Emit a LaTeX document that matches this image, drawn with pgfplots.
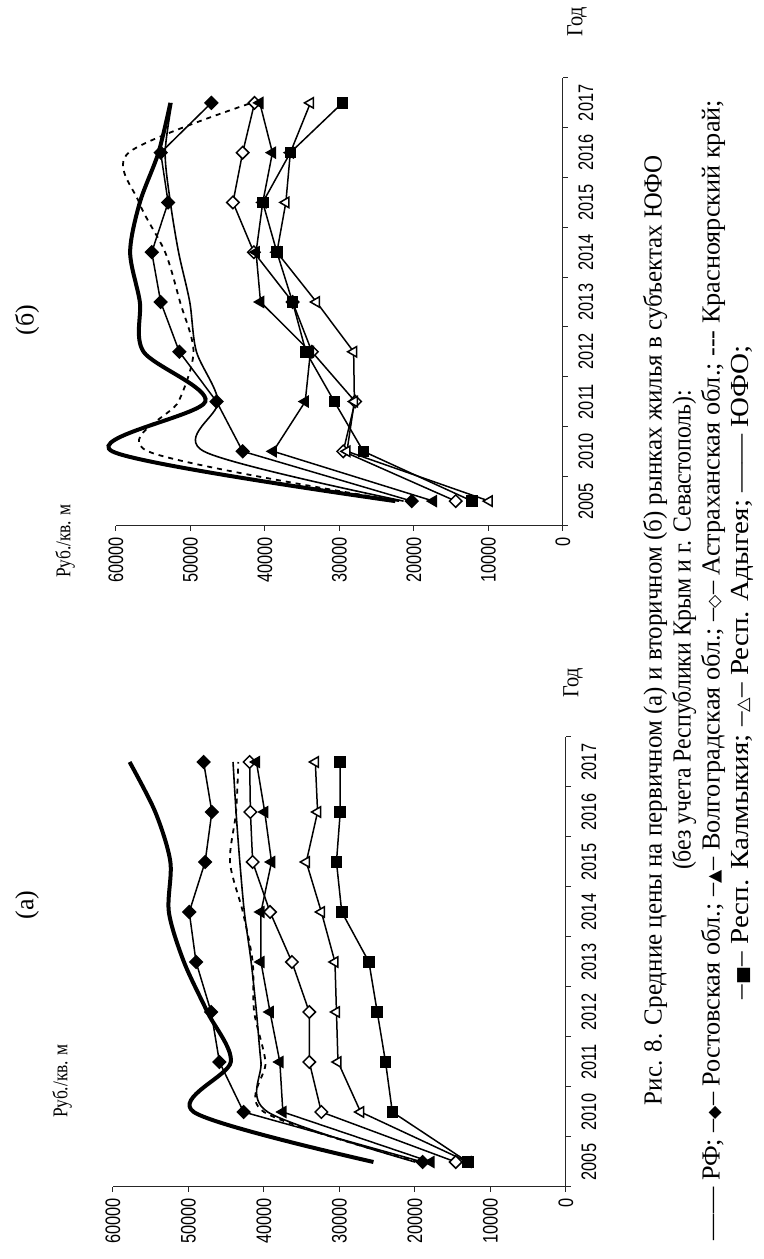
\documentclass[border=0pt]{standalone}
\usepackage{pgfplots}
\pgfplotsset{compat=1.18}
\usepackage{fontspec}
\usepackage{graphicx}
\setmainfont{Liberation Serif}
\newfontfamily\ticksf[FakeStretch=0.78]{Liberation Sans}
\newfontfamily\sym{DejaVu Sans}
\newcommand{\capline}[2]{\resizebox{#1}{\height}{\fontsize{13}{15}\selectfont #2}}
\newcommand{\smk}[1]{{\sym\fontsize{8.5}{8.5}\selectfont #1}}
\begin{document}
\begin{tikzpicture}
\path[use as bounding box] (0,0) rectangle (382pt,629.5pt);
\pgfplotsset{
  common/.style={
    scale only axis,
    x dir=reverse,
    xmin=0, xmax=60000, ymin=-0.5, ymax=8.5,
    axis x line*=bottom, axis y line*=right,
    axis line style={line width=0.5pt, black!85},
    tick style={line width=0.5pt, black!85},
    tick align=outside,
    major tick length=2.5pt,
    minor tick length=2.5pt,
    scaled x ticks=false,
    xtick={0,10000,20000,30000,40000,50000,60000},
    xticklabels={0,10000,20000,30000,40000,50000,60000},
    ytick={0,1,2,3,4,5,6,7,8},
    yticklabels={2005,2010,2011,2012,2013,2014,2015,2016,2017},
    minor ytick={-0.5,0.5,1.5,2.5,3.5,4.5,5.5,6.5,7.5,8.5},
    major y tick style={draw=none},
    xticklabel style={font=\ticksf\fontsize{10.5}{11}\selectfont, inner sep=0pt, yshift=-3pt, rotate=90, anchor=east},
    yticklabel style={font=\ticksf\fontsize{10.5}{11}\selectfont, inner sep=0pt, xshift=5pt, rotate=90, anchor=north},
    clip=false,
  },
  rf/.style={line width=2pt, black, smooth, tension=0.5, mark=none},
  ufo/.style={line width=0.8pt, black, smooth, tension=0.5, mark=none},
  kr/.style={line width=0.9pt, black, dash pattern=on 2.5pt off 2.5pt, smooth, tension=0.5, mark=none},
  ros/.style={line width=0.75pt, black, mark=square*, mark size=2.2pt, mark options={solid, rotate=45, fill=black}},
  vol/.style={line width=0.75pt, black, mark=triangle*, mark size=3pt, mark options={solid, rotate=90, fill=black}},
  ast/.style={line width=0.75pt, black, mark=square*, mark size=2.2pt, mark options={solid, rotate=45, fill=white}},
  kal/.style={line width=0.75pt, black, mark=square*, mark size=2.5pt, mark options={solid, fill=black}},
  ady/.style={line width=0.75pt, black, mark=triangle*, mark size=3pt, mark options={solid, rotate=90, fill=white}},
}
% ---------- chart (b) (secondary market), top ----------
\begin{axis}[common, at={(58pt,366.5pt)}, anchor=south west, width=223.5pt, height=224pt]
\addplot[kr] coordinates {(22000,0) (55700,1) (51600,2) (49600,3) (51400,4) (53400,5) (56900,6) (58300,7) (41800,8)};
\addplot[ufo] coordinates {(21400,0) (48200,1) (46300,2) (49200,3) (50100,4) (51600,5) (52700,6) (53400,7) (52500,8)};
\addplot[rf] coordinates {(22500,0) (60500,1) (48000,2) (56300,3) (56800,4) (58100,5) (56800,6) (54300,7) (52700,8)};
\addplot[ros] coordinates {(20300,0) (43000,1) (46500,2) (51500,3) (54000,4) (55200,5) (53000,6) (54000,7) (47200,8)};
\addplot[ast] coordinates {(14400,0) (29500,1) (27900,2) (33700,3) (36300,4) (41500,5) (44300,6) (43000,7) (41400,8)};
\addplot[ady] coordinates {(9900,0) (29000,1) (28000,2) (28100,3) (33100,4) (38400,5) (37200,6) (36600,7) (33900,8)};
\addplot[kal] coordinates {(12200,0) (26800,1) (30700,2) (34500,3) (36300,4) (38400,5) (40300,6) (36600,7) (29600,8)};
\addplot[vol] coordinates {(17400,0) (38900,1) (34600,2) (33900,3) (40600,4) (41200,5) (40300,6) (39000,7) (40700,8)};
\end{axis}
% ---------- chart (a) (primary market), bottom ----------
\begin{axis}[common, at={(56.5pt,36pt)}, anchor=south west, width=226.5pt, height=225pt]
\addplot[kr] coordinates {(19600,0) (40000,1) (39800,2) (41300,3) (41500,4) (42800,5) (44500,6) (43700,7) (43400,8)};
\addplot[ufo] coordinates {(20000,0) (39500,1) (40400,2) (41000,3) (41700,4) (42600,5) (43200,6) (43700,7) (44100,8)};
\addplot[rf] coordinates {(25500,0) (49300,1) (44400,2) (47500,3) (50600,4) (52600,5) (52400,6) (54400,7) (57800,8)};
\addplot[ros] coordinates {(19000,0) (42700,1) (45900,2) (47000,3) (49000,4) (49900,5) (47800,6) (46900,7) (48000,8)};
\addplot[ast] coordinates {(14600,0) (32400,1) (34000,2) (34000,3) (36300,4) (39200,5) (41500,6) (41800,7) (41900,8)};
\addplot[ady] coordinates {(13000,0) (27200,1) (30200,2) (30400,3) (30600,4) (32400,5) (34400,6) (32900,7) (33200,8)};
\addplot[kal] coordinates {(13000,0) (23000,1) (23900,2) (25000,3) (26100,4) (29700,5) (30400,6) (29900,7) (29900,8)};
\addplot[vol] coordinates {(17900,0) (37500,1) (37900,2) (39200,3) (40400,4) (40400,5) (39000,6) (39900,7) (41000,8)};
\end{axis}
% ---------- texts ----------
\begin{scope}[every node/.style={rotate=90, inner sep=0pt}]
\node at (13.5pt,469.5pt) {\fontsize{13}{15}\selectfont (б)};
\node at (13.5pt,177pt) {\fontsize{13}{15}\selectfont (а)};
\node at (32.5pt,359pt) {\resizebox{37pt}{\height}{\fontsize{10.5}{12}\selectfont Руб./кв. м}};
\node at (31pt,89pt) {\resizebox{37pt}{\height}{\fontsize{10.5}{12}\selectfont Руб./кв. м}};
\node at (288.5pt,618.5pt) {\resizebox{15pt}{\height}{\fontsize{11.5}{12}\selectfont Год}};
\node at (286.5pt,288pt) {\resizebox{15pt}{\height}{\fontsize{11.5}{12}\selectfont Год}};
\node at (327.5pt,314.5pt) {\capline{475pt}{Рис. 8. Средние цены на первичном (а) и вторичном (б) рынках жилья в субъектах ЮФО}};
\node at (342pt,314.5pt) {\capline{240pt}{(без учета Республики Крым и г. Севастополь):}};
\node at (356.5pt,294.5pt) {\capline{570pt}{—— РФ; –\smk{◆}– Ростовская обл.; –\smk{▲}– Волгоградская обл.; –\smk{◇}– Астраханская обл.; -{}-{}- Красноярский край;}};
\node at (371pt,293.5pt) {\capline{327pt}{–\smk{■}– Респ. Калмыкия; –\smk{△}– Респ. Адыгея; —— ЮФО;}};
\end{scope}
\end{tikzpicture}
\end{document}
